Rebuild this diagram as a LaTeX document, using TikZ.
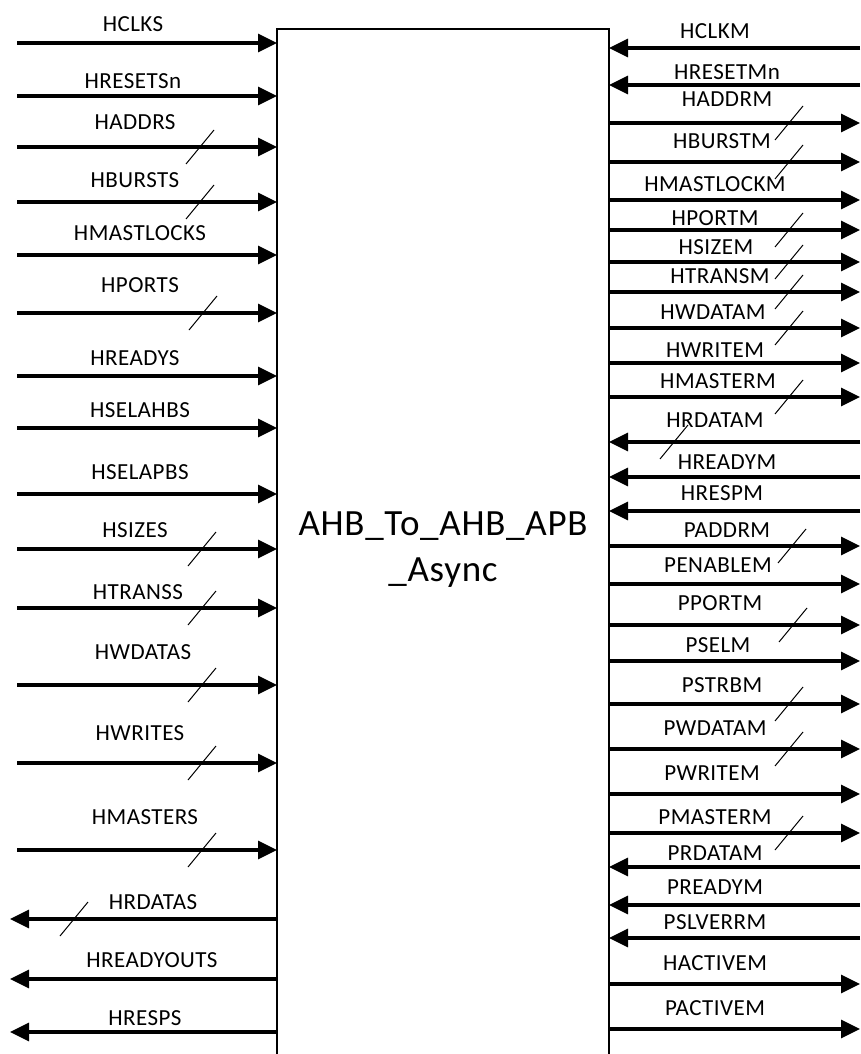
\documentclass[tikz,border=0pt]{standalone}
\usepackage{fontspec}
\newfontfamily\sigfont[LetterSpace=2]{Carlito}
\usetikzlibrary{arrows.meta,decorations.markings}
\begin{document}
\begin{tikzpicture}[x=1pt,y=-1pt,
        sig/.style={line width=3.3pt,-{Triangle[length=19pt,width=18pt]}},
        bus/.style={postaction={decorate,decoration={markings,
            mark=at position #1pt with {\draw[line width=1pt,arrows=-] (-14pt,-17pt) -- (14pt,17pt);}}}},
        lbl/.style={font={\sigfont\fontsize{23}{27}\selectfont},anchor=base,inner sep=0pt},
        title/.style={font={\sigfont\fontsize{37}{46}\selectfont},align=center}]
            \useasboundingbox (0,0) rectangle (861,1054);

            \coordinate (coreW) at (277,29);
            \coordinate (coreE) at (609,29);
            \draw[line width=1.3pt] (277,1054) -- (coreW) -- (coreE) -- (609,1054);
            \node[title] (core) at (443,550) {AHB\_To\_AHB\_APB\\\_Async};

            \coordinate (hclks) at (17,43);
            \coordinate (hresetsn) at (17,96);
            \coordinate (haddrs) at (17,147);
            \coordinate (hbursts) at (17,202);
            \coordinate (hmastlocks) at (17,255);
            \coordinate (hports) at (17,313);
            \coordinate (hreadys) at (17,376);
            \coordinate (hselahbs) at (17,428);
            \coordinate (hselapbs) at (17,494);
            \coordinate (hsizes) at (17,549);
            \coordinate (htranss) at (17,608);
            \coordinate (hwdatas) at (17,685);
            \coordinate (hwrites) at (17,763);
            \coordinate (hmasters) at (17,850);
            \coordinate (hrdatas) at (10,919);
            \coordinate (hreadyouts) at (10,979);
            \coordinate (hresps) at (10,1032);

            \draw[sig] (hclks) -- (hclks -| coreW);
            \draw[sig] (hresetsn) -- (hresetsn -| coreW);
            \draw[sig,bus=183] (haddrs) -- (haddrs -| coreW);
            \draw[sig,bus=183] (hbursts) -- (hbursts -| coreW);
            \draw[sig] (hmastlocks) -- (hmastlocks -| coreW);
            \draw[sig,bus=186] (hports) -- (hports -| coreW);
            \draw[sig] (hreadys) -- (hreadys -| coreW);
            \draw[sig] (hselahbs) -- (hselahbs -| coreW);
            \draw[sig] (hselapbs) -- (hselapbs -| coreW);
            \draw[sig,bus=185] (hsizes) -- (hsizes -| coreW);
            \draw[sig,bus=185] (htranss) -- (htranss -| coreW);
            \draw[sig,bus=185] (hwdatas) -- (hwdatas -| coreW);
            \draw[sig,bus=185] (hwrites) -- (hwrites -| coreW);
            \draw[sig,bus=185] (hmasters) -- (hmasters -| coreW);
            \draw[sig,bus=203] (hrdatas -| coreW) -- (hrdatas);
            \draw[sig] (hreadyouts -| coreW) -- (hreadyouts);
            \draw[sig] (hresps -| coreW) -- (hresps);

            \node[lbl] (hclksT) at (133,32) {HCLKS};
            \node[lbl] (hresetsnT) at (133,89) {HRESETSn};
            \node[lbl] (haddrsT) at (135,130) {HADDRS};
            \node[lbl] (hburstsT) at (135,187) {HBURSTS};
            \node[lbl] (hmastlocksT) at (140,240) {HMASTLOCKS};
            \node[lbl] (hportsT) at (140,292) {HPORTS};
            \node[lbl] (hreadysT) at (135,365) {HREADYS};
            \node[lbl] (hselahbsT) at (140,417) {HSELAHBS};
            \node[lbl] (hselapbsT) at (140,479) {HSELAPBS};
            \node[lbl] (hsizesT) at (135,537) {HSIZES};
            \node[lbl] (htranssT) at (138,599) {HTRANSS};
            \node[lbl] (hwdatasT) at (143,659) {HWDATAS};
            \node[lbl] (hwritesT) at (140,740) {HWRITES};
            \node[lbl] (hmastersT) at (145,824) {HMASTERS};
            \node[lbl] (hrdatasT) at (153,909) {HRDATAS};
            \node[lbl] (hreadyoutsT) at (152,967) {HREADYOUTS};
            \node[lbl] (hrespsT) at (145,1025) {HRESPS};

            \coordinate (hclkm) at (860,48);
            \coordinate (hresetmn) at (860,85);
            \coordinate (haddrm) at (860,123);
            \coordinate (hburstm) at (860,162);
            \coordinate (hmastlockm) at (860,200);
            \coordinate (hportm) at (860,230);
            \coordinate (hsizem) at (860,262);
            \coordinate (htransm) at (860,292);
            \coordinate (hwdatam) at (860,328);
            \coordinate (hwritem) at (860,363);
            \coordinate (hmasterm) at (860,397);
            \coordinate (hrdatam) at (860,442);
            \coordinate (hreadym) at (860,477);
            \coordinate (hrespm) at (860,511);
            \coordinate (paddrm) at (860,546);
            \coordinate (penablem) at (860,584);
            \coordinate (pportm) at (860,625);
            \coordinate (pselm) at (860,661);
            \coordinate (pstrbm) at (860,704);
            \coordinate (pwdatam) at (860,749);
            \coordinate (pwritem) at (860,794);
            \coordinate (pmasterm) at (860,833);
            \coordinate (prdatam) at (860,867);
            \coordinate (preadym) at (860,905);
            \coordinate (pslverrm) at (860,938);
            \coordinate (hactivem) at (860,984);
            \coordinate (pactivem) at (860,1029);

            \draw[sig] (hclkm) -- (hclkm -| coreE);
            \draw[sig] (hresetmn) -- (hresetmn -| coreE);
            \draw[sig,bus=180] (haddrm -| coreE) -- (haddrm);
            \draw[sig,bus=180] (hburstm -| coreE) -- (hburstm);
            \draw[sig] (hmastlockm -| coreE) -- (hmastlockm);
            \draw[sig,bus=180] (hportm -| coreE) -- (hportm);
            \draw[sig,bus=180] (hsizem -| coreE) -- (hsizem);
            \draw[sig,bus=180] (htransm -| coreE) -- (htransm);
            \draw[sig,bus=180] (hwdatam -| coreE) -- (hwdatam);
            \draw[sig] (hwritem -| coreE) -- (hwritem);
            \draw[sig,bus=180] (hmasterm -| coreE) -- (hmasterm);
            \draw[sig,bus=186] (hrdatam) -- (hrdatam -| coreE);
            \draw[sig] (hreadym) -- (hreadym -| coreE);
            \draw[sig] (hrespm) -- (hrespm -| coreE);
            \draw[sig,bus=183] (paddrm -| coreE) -- (paddrm);
            \draw[sig] (penablem -| coreE) -- (penablem);
            \draw[sig,bus=184] (pportm -| coreE) -- (pportm);
            \draw[sig] (pselm -| coreE) -- (pselm);
            \draw[sig,bus=180] (pstrbm -| coreE) -- (pstrbm);
            \draw[sig,bus=180] (pwdatam -| coreE) -- (pwdatam);
            \draw[sig] (pwritem -| coreE) -- (pwritem);
            \draw[sig,bus=180] (pmasterm -| coreE) -- (pmasterm);
            \draw[sig] (prdatam) -- (prdatam -| coreE);
            \draw[sig] (preadym) -- (preadym -| coreE);
            \draw[sig] (pslverrm) -- (pslverrm -| coreE);
            \draw[sig] (hactivem -| coreE) -- (hactivem);
            \draw[sig] (pactivem -| coreE) -- (pactivem);

            \node[lbl] (hclkmT) at (715,39) {HCLKM};
            \node[lbl] (hresetmnT) at (727,80) {HRESETMn};
            \node[lbl] (haddrmT) at (727,107) {HADDRM};
            \node[lbl] (hburstmT) at (722,149) {HBURSTM};
            \node[lbl] (hmastlockmT) at (715,191) {HMASTLOCKM};
            \node[lbl] (hportmT) at (715,225) {HPORTM};
            \node[lbl] (hsizemT) at (716,254) {HSIZEM};
            \node[lbl] (htransmT) at (720,283) {HTRANSM};
            \node[lbl] (hwdatamT) at (713,319) {HWDATAM};
            \node[lbl] (hwritemT) at (715,357) {HWRITEM};
            \node[lbl] (hmastermT) at (718,388) {HMASTERM};
            \node[lbl] (hrdatamT) at (715,427) {HRDATAM};
            \node[lbl] (hreadymT) at (727,469) {HREADYM};
            \node[lbl] (hrespmT) at (722,500) {HRESPM};
            \node[lbl] (paddrmT) at (727,537) {PADDRM};
            \node[lbl] (penablemT) at (718,572) {PENABLEM};
            \node[lbl] (pportmT) at (720,610) {PPORTM};
            \node[lbl] (pselmT) at (718,652) {PSELM};
            \node[lbl] (pstrbmT) at (722,692) {PSTRBM};
            \node[lbl] (pwdatamT) at (715,735) {PWDATAM};
            \node[lbl] (pwritemT) at (712,780) {PWRITEM};
            \node[lbl] (pmastermT) at (715,824) {PMASTERM};
            \node[lbl] (prdatamT) at (715,860) {PRDATAM};
            \node[lbl] (preadymT) at (715,894) {PREADYM};
            \node[lbl] (pslverrmT) at (715,929) {PSLVERRM};
            \node[lbl] (hactivemT) at (715,970) {HACTIVEM};
            \node[lbl] (pactivemT) at (715,1015) {PACTIVEM};
        \end{tikzpicture}
\end{document}
